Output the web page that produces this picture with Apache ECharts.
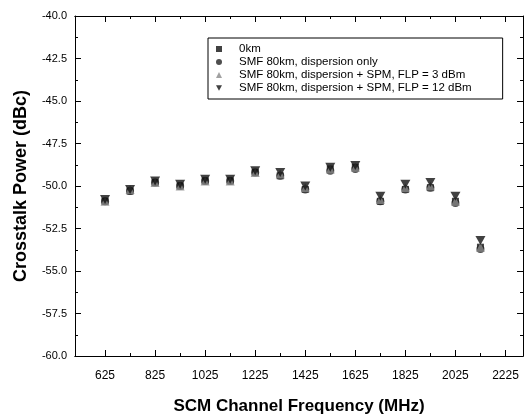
<!DOCTYPE html>
<html>
<head>
<meta charset="utf-8">
<script src="https://cdn.jsdelivr.net/npm/echarts@6/dist/echarts.min.js"></script>
<style>html,body{margin:0;padding:0;background:#fff}#c{width:525px;height:420px}</style>
</head>
<body>
<div id="c"></div>
<script>
// Data
var freqs = [625,725,825,925,1025,1125,1225,1325,1425,1525,1625,1725,1825,1925,2025,2125];
var km0 = [-50.9,-50.3,-49.8,-50.0,-49.7,-49.7,-49.2,-49.4,-50.2,-49.0,-48.9,-50.9,-50.2,-50.1,-50.9,-53.6];
var dispOnly = [-50.9,-50.3,-49.8,-50.0,-49.7,-49.7,-49.2,-49.4,-50.2,-49.1,-49.0,-50.9,-50.2,-50.1,-51.0,-53.7];
var spm3 = [-50.9,-50.2,-49.8,-50.0,-49.7,-49.7,-49.2,-49.3,-50.1,-49.0,-48.9,-50.8,-50.1,-50.0,-50.9,-53.6];
var spm12 = [-50.8,-50.2,-49.7,-49.9,-49.6,-49.6,-49.1,-49.2,-50.0,-48.9,-48.8,-50.6,-49.9,-49.8,-50.6,-53.2];
var seriesNames = ['0km','SMF 80km, dispersion only','SMF 80km, dispersion + SPM, FLP = 3 dBm','SMF 80km, dispersion + SPM, FLP = 12 dBm'];
var xMajorTicks = [625,825,1025,1225,1425,1625,1825,2025,2225];
var xMinorTicks = [725,925,1125,1325,1525,1725,1925,2125];
var xMin = 505, xMax = 2295;
var yMin = -60, yMax = -40, yStep = 2.5;

function pairs(ys){ return freqs.map(function(f,i){ return [f, ys[i]]; }); }

var FONT = '"Liberation Sans", Arial, sans-serif';
var chart = echarts.init(document.getElementById('c'), null, {renderer:'canvas'});

function xAx(pos, ticks, len, showLabel){
  return {
    type:'value', position:pos, min:xMin, max:xMax,
    axisLine:{show:true, onZero:false, lineStyle:{color:'#000', width:1}},
    axisTick:{show:true, inside:true, length:len, customValues:ticks, lineStyle:{color:'#000'}},
    axisLabel:{show:showLabel, customValues:ticks, color:'#000', fontSize:12, fontFamily:FONT, margin:14,
      formatter:function(v){ return String(v); }},
    splitLine:{show:false}
  };
}

var xAxes = [xAx('bottom', xMajorTicks, 6, true), xAx('bottom', xMinorTicks, 3, false), xAx('top', xMajorTicks, 6, false), xAx('top', xMinorTicks, 3, false)];
xAxes[0].name = 'SCM Channel Frequency (MHz)';
xAxes[0].nameLocation = 'middle';
xAxes[0].nameGap = 42;
xAxes[0].nameTextStyle = {fontSize:17, fontWeight:'bold', color:'#000', fontFamily:FONT};

function yAx(pos, showLabel){
  return {
    type:'value', position:pos, min:yMin, max:yMax, interval:yStep,
    axisLine:{show:true, onZero:false, lineStyle:{color:'#000', width:1}},
    axisTick:{show:true, inside:true, length:6, lineStyle:{color:'#000'}},
    minorTick:{show:true, splitNumber:2, length:3, lineStyle:{color:'#000'}},
    axisLabel:{show:showLabel, color:'#000', fontSize:11, fontFamily:FONT, margin:8, formatter:function(v){return v.toFixed(1);} },
    splitLine:{show:false}
  };
}
var yAxes = [yAx('left', true), yAx('right', false)];
yAxes[0].name = 'Crosstalk Power (dBc)';
yAxes[0].nameLocation = 'middle';
yAxes[0].nameGap = 45;
yAxes[0].nameTextStyle = {fontSize:18, fontWeight:'bold', color:'#000', fontFamily:FONT};

var sym = [
  {symbol:'rect', size:7, color:'#111'},
  {symbol:'circle', size:8, color:'#222'},
  {symbol:'triangle', size:9, color:'#8a8a8a'},
  {symbol:'path://M0,0L10,0L5,9Z', size:[10,9], color:'#111'}
];
var dataSets = [km0, dispOnly, spm3, spm12];

chart.setOption({
  animation:false,
  backgroundColor:'#fff',
  grid:{left:75, right:2, top:16, bottom:63, containLabel:false},
  legend:{
    show:true, orient:'vertical', left:208, top:38,
    backgroundColor:'#fff', borderColor:'#000', borderWidth:1,
    padding:[5,31,5,8], itemGap:1, itemWidth:6, itemHeight:6,
    textStyle:{fontSize:11.5, lineHeight:10, color:'#000', fontFamily:FONT, padding:[0,0,0,12]},
    data:seriesNames
  },
  xAxis:xAxes,
  yAxis:yAxes,
  series:dataSets.map(function(d,i){
    return {
      name:seriesNames[i], type:'scatter', xAxisIndex:0, yAxisIndex:0,
      data:pairs(d), symbol:sym[i].symbol, symbolSize:sym[i].size,
      itemStyle:{color:sym[i].color}
    };
  })
});
</script>
</body>
</html>
